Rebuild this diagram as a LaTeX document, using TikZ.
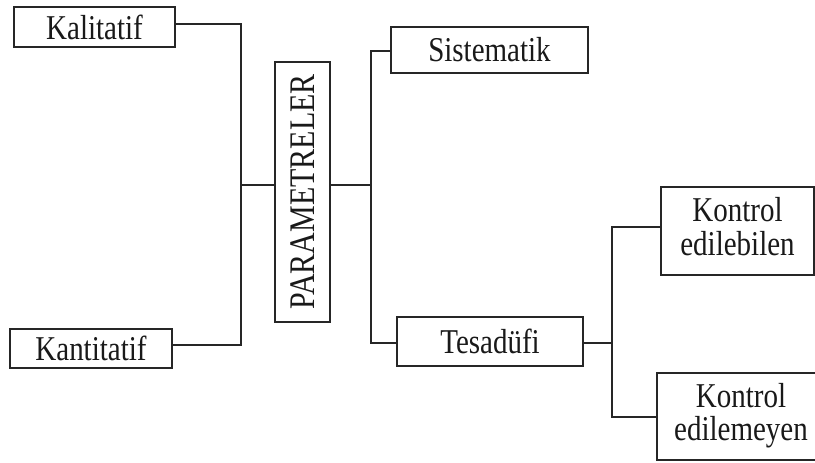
\documentclass[tikz,border=0pt]{standalone}
\usepackage{graphicx}
\usepackage{fontspec}
\setmainfont{Liberation Serif}
\newcommand{\vstretch}[1]{\scalebox{1}[1.2]{#1}}
\newcommand{\twolines}[2]{\vstretch{\begin{tabular}{@{}c@{}}#1\\#2\end{tabular}}}
\begin{document}
\begin{tikzpicture}[x=1pt,y=-1pt,
  box/.style={draw=black!85,line width=1.4pt,inner sep=0pt,align=center,
    font=\fontsize{29}{25.8}\selectfont,text=black!90},
  link/.style={draw=black!85,line width=1.4pt}]
\useasboundingbox (0,0) rectangle (815,463);
\clip (0,0) rectangle (815,463);
\node[box,minimum width=161pt,minimum height=40pt] (kal) at (94.5,27) {\vstretch{Kalitatif}};
\node[box,minimum width=162pt,minimum height=39pt] (kan) at (91,348.5) {\vstretch{Kantitatif}};
\node[box,minimum width=55pt,minimum height=260pt] (par) at (302.5,192) {};
\node[font=\fontsize{30}{31}\selectfont,text=black!90,rotate=90,inner sep=0pt] (partext) at (par.center) {\vstretch{PARAMETRELER}};
\node[box,minimum width=197pt,minimum height=46pt] (sis) at (489.5,50) {\vstretch{Sistematik}};
\node[box,minimum width=186pt,minimum height=49pt] (tes) at (490,341.5) {\vstretch{Tesadüfi}};
\node[box,minimum width=153pt,minimum height=88pt] (keb) at (737.5,231) {\twolines{Kontrol}{edilebilen}};
\node[box,minimum width=168pt,minimum height=87pt] (kem) at (741,416.5) {\twolines{Kontrol}{edilemeyen}};
\coordinate (lj) at (241,185);
\coordinate (rj) at (371,185);
\coordinate (tj) at (612,343);
% left fork
\draw[link] (kal.east |- 0,24) -| (lj);
\draw[link] (kan.east |- 0,345) -| (lj);
\draw[link] (lj) -- (par.west |- lj);
% right fork
\draw[link] (par.east |- rj) -- (rj);
\draw[link] (sis.west |- 0,51) -| (rj);
\draw[link] (tes.west |- 0,343) -| (rj);
% Tesadufi fork
\draw[link] (tes.east |- tj) -- (tj);
\draw[link] (keb.west |- 0,227) -| (tj);
\draw[link] (kem.west |- 0,417) -| (tj);
\end{tikzpicture}
\end{document}
